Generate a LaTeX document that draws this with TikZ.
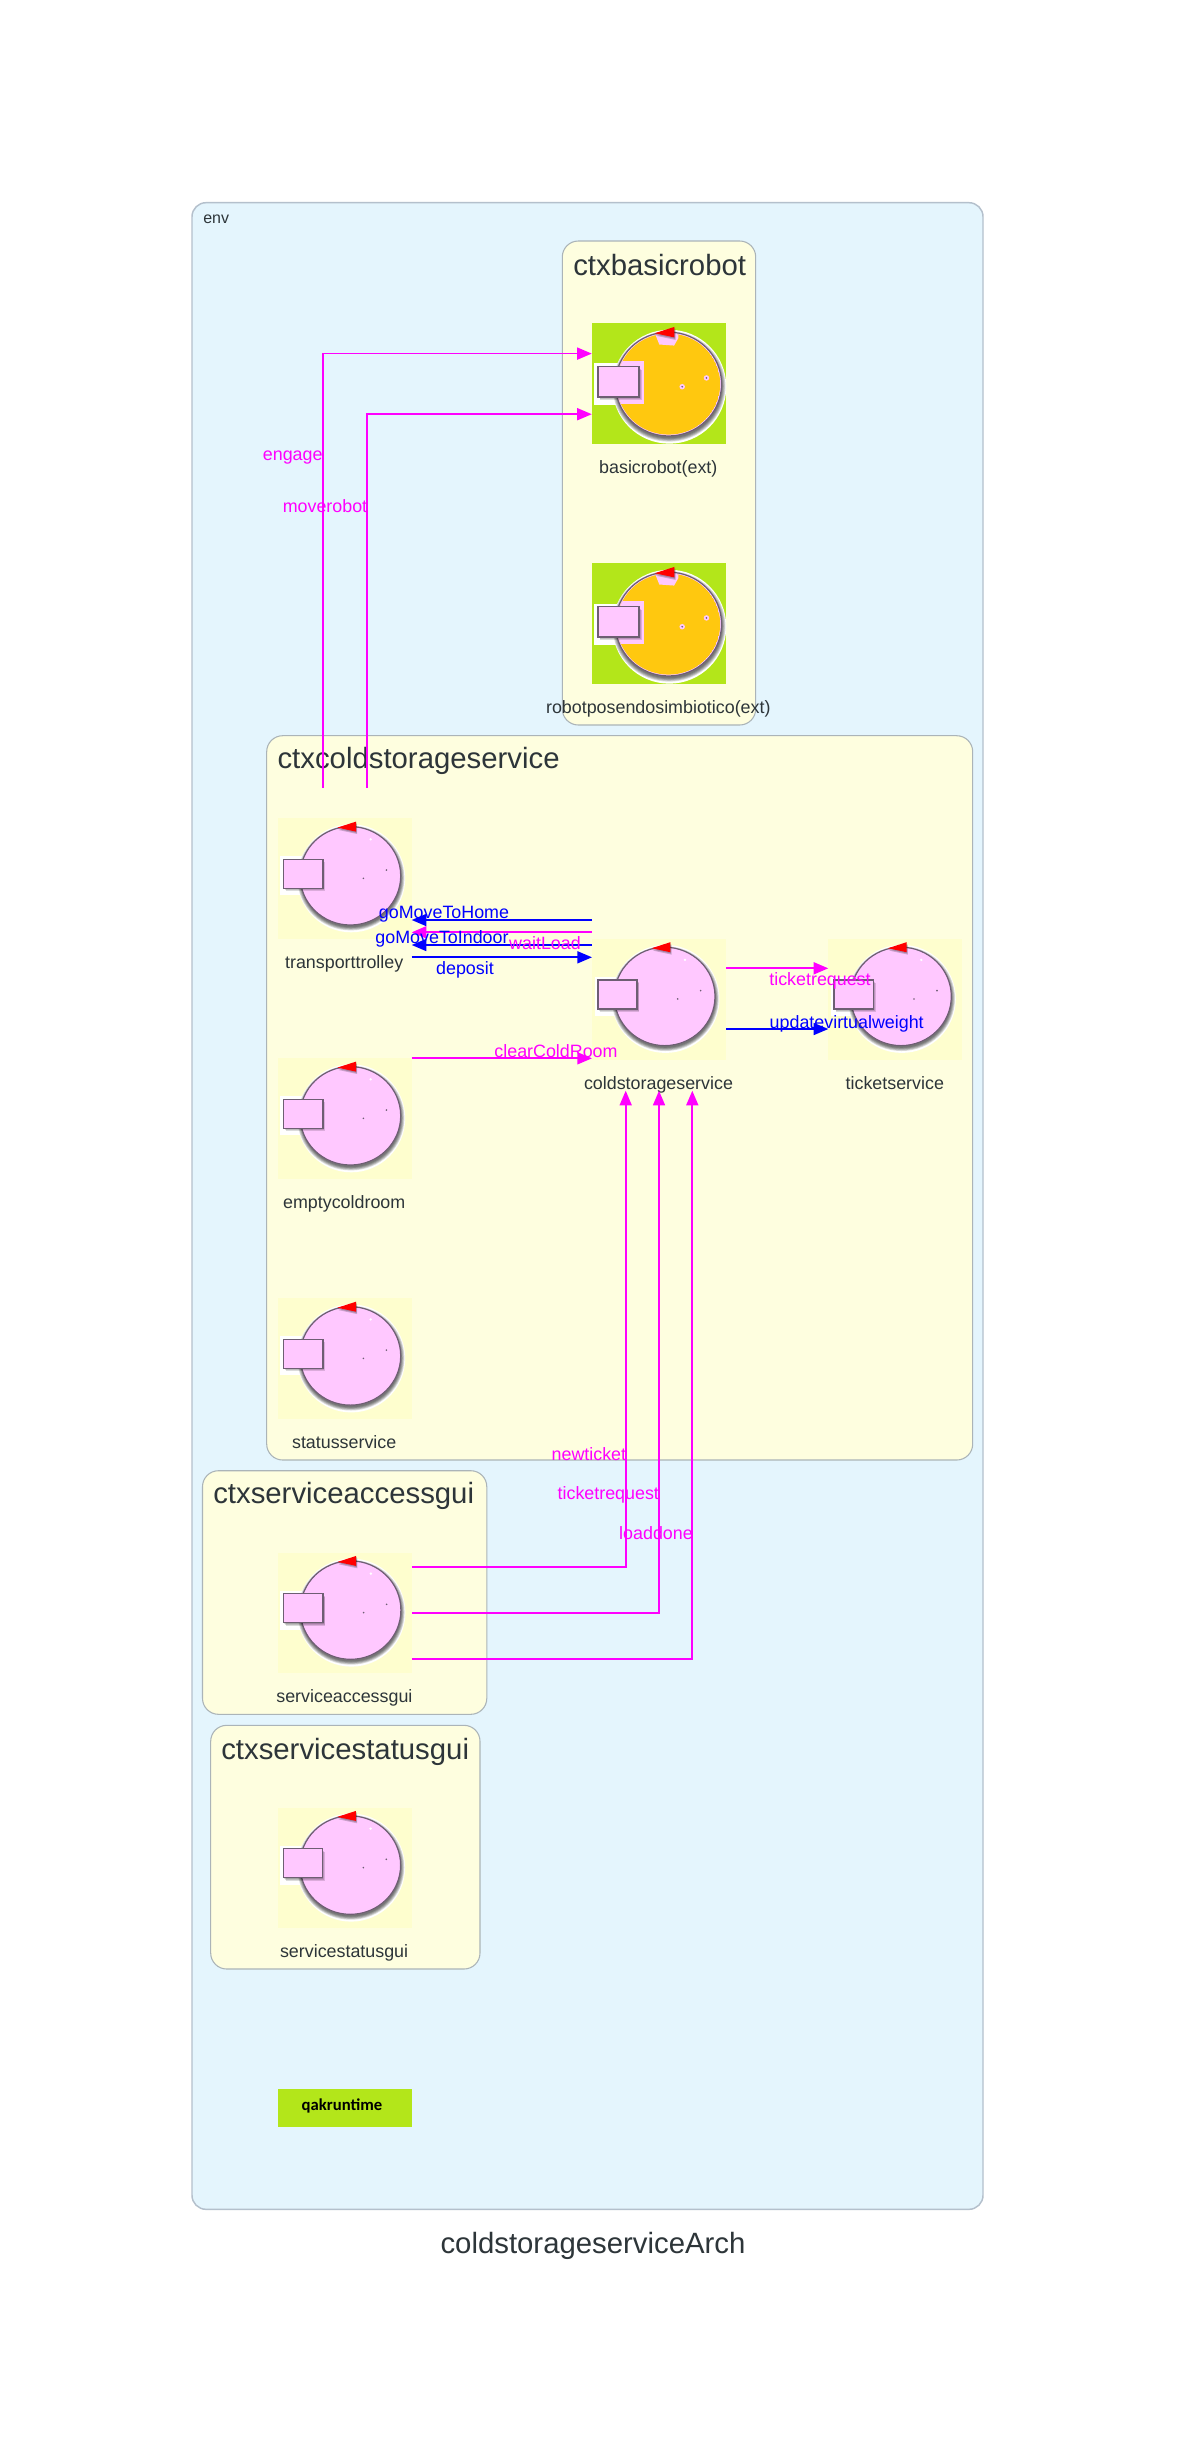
\documentclass[tikz,border=0pt]{standalone}
\usepackage{fontspec}
\setmainfont{Liberation Sans}
\newfontfamily\qakfont{Carlito}
\usetikzlibrary{calc,arrows.meta}

\definecolor{envblue}{HTML}{E4F5FD}
\definecolor{envedge}{HTML}{B4C0CC}
\definecolor{ctxyellow}{HTML}{FEFEDF}
\definecolor{ctxedge}{HTML}{ABB4B8}
\definecolor{tileyellow}{HTML}{FEFECE}
\definecolor{tilegreen}{HTML}{B3E61A}
\definecolor{corepink}{HTML}{FFC8FF}
\definecolor{coreorange}{HTML}{FFC80F}
\definecolor{iconedge}{HTML}{6E5E73}
\definecolor{inktext}{HTML}{2D3539}
\definecolor{msgpink}{HTML}{FF00FF}
\definecolor{msgblue}{HTML}{0000FF}

\tikzset{
  envbox/.style={draw=envedge,fill=envblue,line width=1.1pt,rounded corners=10.5pt},
  ctxbox/.style={draw=ctxedge,fill=ctxyellow,line width=.8pt,rounded corners=12pt},
  tile/.style={minimum width=100.5pt,minimum height=90.6pt,inner sep=0pt,outer sep=0pt,fill=tileyellow},
  greentile/.style={tile,fill=tilegreen},
  qaktile/.style={tile,fill=tilegreen,minimum height=28pt},
  ctxtitle/.style={anchor=base west,text=inktext,font=\fontsize{22}{26}\selectfont,inner sep=0pt},
  actorlbl/.style={anchor=base,text=inktext,font=\fontsize{13.4}{16}\selectfont,inner sep=0pt},
  pinkflow/.style={draw=msgpink,line width=1.25pt,-{Triangle[length=11pt,width=9pt]}},
  blueflow/.style={draw=msgblue,line width=1.25pt,-{Triangle[length=11pt,width=9pt]}},
  pinklbl/.style={anchor=base,text=msgpink,font=\fontsize{13.4}{16}\selectfont,inner sep=0pt},
  bluelbl/.style={anchor=base,text=msgblue,font=\fontsize{13.4}{16}\selectfont,inner sep=0pt}
}

% one actor icon on its tile: node, scale, colour of the core
\newcommand{\actoricon}[3]{
\begin{scope}[shift={(#1.north west)},scale=#2]
  \fill[white] (73.5,60) ellipse (54 and 54);
  \fill[white] (2.5,38) rectangle (49,77);
  \foreach \grow in {4,3,2,1,0}{\fill[black,opacity=.14] (73.2,59.7) ellipse ({50.3+\grow*.8} and {49.2+\grow*.8});}
  \fill[corepink,draw=iconedge,line width=.9pt] (72.7,57.5) ellipse (50.3 and 49.2);
  \begin{scope}
    \clip (72.7,57.5) ellipse (49 and 47.9);
    \fill[#3] (72.7,57.5) ellipse (49 and 47.9);
    \fill[corepink] (0,36) rectangle (49,76);
    \fill[corepink] (56,0) -- (82,0) -- (82,14) -- (78,21) -- (64,20) -- cycle;
  \end{scope}
  \foreach \grow in {3,2,1}{\fill[black,opacity=.14] (5.7,41) ++(\grow*.8,\grow) rectangle ++(39.3,29);}
  \fill[corepink,draw=iconedge,line width=1.2pt] (5.7,41) rectangle (45,70);
  \foreach \grow in {2.4,1.2}{\fill[black,opacity=.2] (59.7,9.3) ++(\grow*.5,\grow) -- ++(18.6,-6) -- ++(0,10) -- cycle;}
  \fill[red] (59.7,9.3) -- (78.3,3.3) -- (78.3,13.3) -- cycle;
  \foreach \dotx/\doty in {85.7/60,108.7/51.7}{
    \fill[corepink] (\dotx,\doty) circle (2.6);
    \fill[iconedge] (\dotx,\doty) circle (.9);
  }
\end{scope}}

\begin{document}
\begin{tikzpicture}[x=.75pt,y=-.75pt]
\useasboundingbox[fill=white] (0,0) rectangle (1186,2453);

% the boxes
\draw[envbox] (192,202.7) rectangle (983,2209.3);
\draw[ctxbox] (562.3,241) rectangle (755.7,725);
\draw[ctxbox] (266.7,735.7) rectangle (972.7,1460);
\draw[ctxbox] (202.5,1470.7) rectangle (486.8,1714.3);
\draw[ctxbox] (210.7,1725.3) rectangle (480,1969);

\node[anchor=base west,text=inktext,font=\fontsize{12}{14}\selectfont,inner sep=0pt] (envtitle) at (203,223.3) {env};
\node[ctxtitle] (ctxbasicrobot) at (573,275) {ctxbasicrobot};
\node[ctxtitle] (ctxcoldstorageservice) at (277.3,768.7) {ctxcoldstorageservice};
\node[ctxtitle] (ctxserviceaccessgui) at (213,1503.3) {ctxserviceaccessgui};
\node[ctxtitle] (ctxservicestatusgui) at (221,1759) {ctxservicestatusgui};

% the actors
\node[greentile] (basicrobot) at (658.8,383.8) {};
\node[greentile] (robotposendosimbiotico) at (658.8,623.8) {};
\node[tile] (transporttrolley) at (344.7,878.7) {};
\node[tile] (coldstorageservice) at (659,999.3) {};
\node[tile] (ticketservice) at (895.3,999.3) {};
\node[tile] (emptycoldroom) at (344.7,1118.7) {};
\node[tile] (statusservice) at (344.7,1358.8) {};
\node[tile] (serviceaccessgui) at (344.9,1613) {};
\node[tile] (servicestatusgui) at (344.6,1868) {};

\foreach \actor in {transporttrolley,coldstorageservice,ticketservice,emptycoldroom,statusservice,serviceaccessgui,servicestatusgui}{
  \actoricon{\actor}{1}{corepink}
  \fill[white] ($(\actor.north west)+(93,21)$) circle (1.3);
}
\foreach \actor in {basicrobot,robotposendosimbiotico}{\actoricon{\actor}{1.055}{coreorange}}

\foreach \actor/\txt in {basicrobot/basicrobot(ext),robotposendosimbiotico/robotposendosimbiotico(ext),transporttrolley/transporttrolley,coldstorageservice/coldstorageservice,ticketservice/ticketservice,emptycoldroom/emptycoldroom,statusservice/statusservice,serviceaccessgui/serviceaccessgui,servicestatusgui/servicestatusgui}{
  \node[actorlbl] (\actor lbl) at ($(\actor.south)+(-.5,29.5)$) {\txt};
}

\node[qaktile] (qakruntime) at (344.7,2108) {};
\node[anchor=base,font=\qakfont\bfseries\fontsize{12.5}{14}\selectfont,inner sep=0pt] (qaklbl) at (342,2110) {qakruntime};
\node[anchor=base,text=inktext,font=\fontsize{22}{26}\selectfont,inner sep=0pt] (archtitle) at (593,2253) {coldstorageserviceArch};

% lanes and free ends of the messages
\coordinate (engageOut) at ($(transporttrolley.north west)+(45.6,-30.6)$);
\coordinate (moveOut) at ($(transporttrolley.north west)+(89.3,-30.6)$);
\coordinate (laneHome) at (0,920);
\coordinate (laneWait) at (0,932.3);
\coordinate (laneIndoor) at (0,945);
\coordinate (laneDeposit) at (0,957.3);
\coordinate (laneClear) at (0,1058.3);
\coordinate (laneRequest) at (0,968.3);
\coordinate (laneWeight) at (0,1029);
\coordinate (laneNew) at (0,1567.3);
\coordinate (laneTicket) at (0,1613);
\coordinate (laneDone) at (0,1658.7);
\coordinate (inNew) at ($(coldstorageservice.south)+(-33.3,31)$);
\coordinate (inTicket) at ($(coldstorageservice.south)+(0,31)$);
\coordinate (inDone) at ($(coldstorageservice.south)+(33.3,31)$);

\draw[pinkflow] (engageOut) |- ($(basicrobot.west)+(0,-30.2)$);
\draw[pinkflow] (moveOut) |- ($(basicrobot.west)+(0,30.4)$);
\draw[blueflow] (coldstorageservice.west |- laneHome) -- (transporttrolley.east |- laneHome);
\draw[pinkflow] (coldstorageservice.west |- laneWait) -- (transporttrolley.east |- laneWait);
\draw[blueflow] (coldstorageservice.west |- laneIndoor) -- (transporttrolley.east |- laneIndoor);
\draw[blueflow] (transporttrolley.east |- laneDeposit) -- (coldstorageservice.west |- laneDeposit);
\draw[pinkflow] (emptycoldroom.east |- laneClear) -- (coldstorageservice.west |- laneClear);
\draw[pinkflow] (coldstorageservice.east |- laneRequest) -- (ticketservice.west |- laneRequest);
\draw[blueflow] (coldstorageservice.east |- laneWeight) -- (ticketservice.west |- laneWeight);
\draw[pinkflow] (serviceaccessgui.east |- laneNew) -| (inNew);
\draw[pinkflow] (serviceaccessgui.east |- laneTicket) -| (inTicket);
\draw[pinkflow] (serviceaccessgui.east |- laneDone) -| (inDone);

% message labels
\node[pinklbl] (lblengage) at (292.7,460) {engage};
\node[pinklbl] (lblmoverobot) at (325,512.3) {moverobot};
\node[bluelbl] (lblhome) at (444,918.3) {goMoveToHome};
\node[bluelbl] (lblindoor) at (442,943.3) {goMoveToIndoor};
\node[pinklbl] (lblwait) at (545,949) {waitLoad};
\node[bluelbl] (lbldeposit) at (465,974) {deposit};
\node[pinklbl] (lblclear) at (556,1057.3) {clearColdRoom};
\node[pinklbl] (lblrequest) at (820,985) {ticketrequest};
\node[bluelbl] (lblweight) at (846.7,1028.3) {updatevirtualweight};
\node[pinklbl] (lblnew) at (588.9,1460) {newticket};
\node[pinklbl] (lblticket) at (608.3,1499) {ticketrequest};
\node[pinklbl] (lbldone) at (656,1539) {loaddone};
\end{tikzpicture}
\end{document}
